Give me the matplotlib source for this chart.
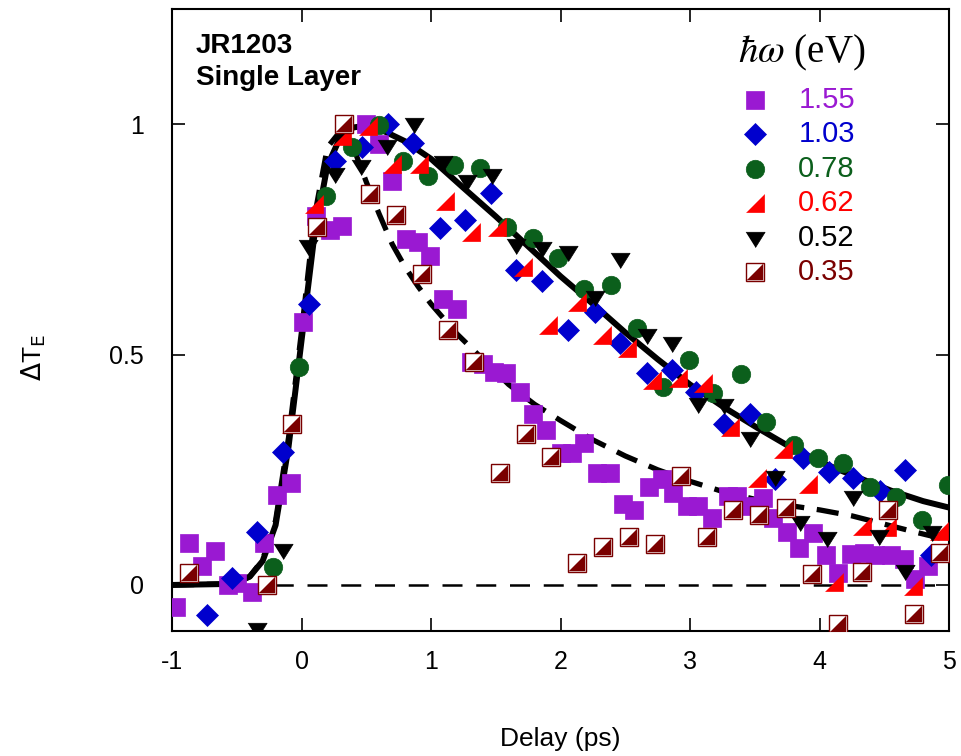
import matplotlib
matplotlib.use("Agg")
import matplotlib.pyplot as plt

plt.rcParams['font.family'] = ['Liberation Sans', 'DejaVu Sans']
plt.rcParams['axes.unicode_minus'] = False

# (delay in ps, normalised dT), one list per photon energy
e155 = [(-0.97, -0.047), (-0.87, 0.092), (-0.77, 0.042), (-0.67, 0.074), (-0.57, 0.0),
        (-0.50, 0.005), (-0.38, -0.015), (-0.29, 0.092), (-0.19, 0.195), (-0.08, 0.222),
        (0.015, 0.57), (0.11, 0.80), (0.22, 0.77), (0.31, 0.78), (0.50, 1.0),
        (0.60, 0.957), (0.70, 0.876), (0.81, 0.75), (0.90, 0.745), (0.99, 0.713),
        (1.09, 0.62), (1.20, 0.60), (1.31, 0.484), (1.40, 0.48), (1.49, 0.462),
        (1.58, 0.46), (1.69, 0.418), (1.79, 0.37), (1.89, 0.336), (2.00, 0.286),
        (2.09, 0.286), (2.18, 0.308), (2.28, 0.242), (2.38, 0.242), (2.48, 0.175),
        (2.57, 0.162), (2.68, 0.212), (2.78, 0.229), (2.87, 0.20), (2.98, 0.172),
        (3.06, 0.172), (3.17, 0.146), (3.29, 0.194), (3.36, 0.194), (3.45, 0.172),
        (3.56, 0.188), (3.64, 0.146), (3.75, 0.114), (3.84, 0.08), (3.95, 0.112),
        (4.05, 0.064), (4.14, 0.027), (4.24, 0.068), (4.34, 0.07), (4.43, 0.064),
        (4.55, 0.064), (4.65, 0.057), (4.74, 0.014), (4.84, 0.042), (4.93, 0.07)]

e103 = [(-0.73, -0.065), (-0.54, 0.016), (-0.34, 0.114), (-0.14, 0.288), (0.06, 0.61),
        (0.26, 0.92), (0.47, 0.95), (0.67, 1.0), (0.86, 0.96), (1.07, 0.775),
        (1.26, 0.793), (1.46, 0.85), (1.66, 0.683), (1.86, 0.66), (2.06, 0.553),
        (2.27, 0.593), (2.46, 0.525), (2.67, 0.46), (2.86, 0.467), (3.05, 0.418),
        (3.26, 0.35), (3.46, 0.37), (3.66, 0.23), (3.87, 0.275), (4.07, 0.245),
        (4.26, 0.232), (4.47, 0.205), (4.66, 0.25), (4.86, 0.064)]

e078 = [(-0.22, 0.04), (-0.02, 0.474), (0.19, 0.845), (0.39, 0.95), (0.60, 0.998),
        (0.78, 0.92), (0.98, 0.887), (1.18, 0.911), (1.38, 0.904), (1.59, 0.776),
        (1.79, 0.754), (1.98, 0.71), (2.18, 0.642), (2.39, 0.65), (2.59, 0.558),
        (2.79, 0.43), (2.99, 0.488), (3.18, 0.416), (3.39, 0.457), (3.59, 0.353),
        (3.80, 0.303), (3.99, 0.275), (4.18, 0.264), (4.39, 0.212), (4.59, 0.192),
        (4.79, 0.14), (4.99, 0.216)]

e062 = [(-0.08, 0.35), (0.10, 0.826), (0.31, 0.975), (0.51, 0.996), (0.70, 0.913),
        (0.91, 0.913), (1.11, 0.833), (1.31, 0.767), (1.51, 0.778), (1.71, 0.69),
        (1.90, 0.565), (2.13, 0.615), (2.32, 0.543), (2.51, 0.515), (2.71, 0.445),
        (2.91, 0.45), (3.10, 0.438), (3.31, 0.342), (3.52, 0.232), (3.72, 0.296),
        (3.91, 0.22), (4.11, 0.006), (4.33, 0.129), (4.52, 0.125), (4.72, -0.002),
        (4.92, 0.118)]

e052 = [(-0.34, -0.095), (-0.14, 0.075), (0.05, 0.735), (0.26, 0.892), (0.46, 0.91),
        (0.66, 0.953), (0.87, 1.0), (1.09, 0.917), (1.28, 0.876), (1.47, 0.89),
        (1.66, 0.738), (1.86, 0.732), (2.06, 0.723), (2.27, 0.626), (2.46, 0.708),
        (2.67, 0.543), (2.86, 0.525), (3.06, 0.392), (3.26, 0.39), (3.46, 0.318),
        (3.66, 0.234), (3.85, 0.136), (4.06, 0.103), (4.26, 0.192), (4.46, 0.107),
        (4.66, 0.031), (4.87, 0.114)]

e035 = [(-0.87, 0.027), (-0.27, 0.0), (-0.07, 0.35), (0.12, 0.776), (0.33, 1.0),
        (0.53, 0.849), (0.73, 0.802), (0.93, 0.674), (1.13, 0.554), (1.33, 0.485),
        (1.53, 0.244), (1.73, 0.327), (1.93, 0.277), (2.13, 0.048), (2.33, 0.083),
        (2.53, 0.105), (2.73, 0.088), (2.93, 0.236), (3.13, 0.104), (3.33, 0.162),
        (3.53, 0.151), (3.74, 0.168), (3.94, 0.024), (4.14, -0.085), (4.33, 0.029),
        (4.53, 0.162), (4.73, -0.063), (4.93, 0.07)]

# fit curves
fit_solid = [(-1.0, 0.0), (-0.6, 0.002), (-0.5, 0.006), (-0.4, 0.018), (-0.3, 0.052),
             (-0.2, 0.13), (-0.1, 0.30), (0.0, 0.53), (0.1, 0.76), (0.2, 0.91),
             (0.3, 0.972), (0.4, 0.993), (0.5, 0.997), (0.6, 0.99), (0.8, 0.963),
             (1.0, 0.925), (1.25, 0.862), (1.5, 0.80), (1.75, 0.735), (2.0, 0.67),
             (2.25, 0.61), (2.5, 0.548), (2.75, 0.49), (3.0, 0.435), (3.26, 0.386),
             (3.52, 0.341), (3.77, 0.30), (4.03, 0.264), (4.29, 0.234), (4.55, 0.205),
             (4.80, 0.182), (5.0, 0.168)]

fit_dashed = [(-1.0, 0.0), (-0.6, 0.002), (-0.5, 0.006), (-0.4, 0.018), (-0.3, 0.055),
              (-0.2, 0.14), (-0.1, 0.32), (0.0, 0.55), (0.1, 0.80), (0.2, 0.95),
              (0.3, 0.985), (0.4, 0.95), (0.5, 0.875), (0.6, 0.805), (0.7, 0.74),
              (0.8, 0.69), (0.9, 0.648), (1.0, 0.61), (1.2, 0.545), (1.4, 0.49),
              (1.6, 0.435), (1.8, 0.392), (2.0, 0.357), (2.25, 0.315), (2.5, 0.28),
              (2.75, 0.25), (3.0, 0.225), (3.25, 0.203), (3.5, 0.186), (3.75, 0.173),
              (4.0, 0.163), (4.25, 0.15), (4.5, 0.132), (4.75, 0.114), (5.0, 0.097)]

labels = ["1.55", "1.03", "0.78", "0.62", "0.52", "0.35"]
colors = ["#9A19D2", "#0000CD", "#0B5F1C", "#FF0000", "#000000", "#7A0000"]

tri_half = [(-1, -1), (1, -1), (1, 1)]
tri_down = [(-1, 0.65), (1, 0.65), (0, -0.95)]


def xy(pts):
    return [p[0] for p in pts], [p[1] for p in pts]


def draw_marker(ax, x, y, i, **kw):
    c = colors[i]
    if i == 0:
        ax.plot(x, y, ls="none", marker="s", ms=13.3, mfc=c, mec=c, mew=0.5, **kw)
    elif i == 1:
        ax.plot(x, y, ls="none", marker="D", ms=10.8, mfc=c, mec=c, mew=0.5, **kw)
    elif i == 2:
        ax.plot(x, y, ls="none", marker="o", ms=13.3, mfc=c, mec=c, mew=0.5, **kw)
    elif i == 3:
        ax.plot(x, y, ls="none", marker=tri_half, ms=13, mfc=c, mec=c, mew=0.5, **kw)
    elif i == 4:
        ax.plot(x, y, ls="none", marker=tri_down, ms=13.8, mfc=c, mec=c, mew=0.5, **kw)
    else:
        ax.plot(x, y, ls="none", marker="s", ms=12.6, mfc="white", mec=c, mew=1.0, **kw)
        ax.plot(x, y, ls="none", marker=tri_half, ms=11.6, mfc=c, mec=c, mew=0.3, **kw)


fig = plt.figure(figsize=(9.62, 7.56), dpi=100)
ax = fig.add_axes([0.1788, 0.1653, 0.8077, 0.8227])

ax.axhline(0, color="black", lw=1.8, dashes=(8, 5.5), zorder=1)
ax.plot(*xy(fit_solid), color="black", lw=4.3, solid_capstyle="round", zorder=2)
ax.plot(*xy(fit_dashed), color="black", lw=3.8, dashes=(4.2, 2.4), zorder=2)

series = [e155, e103, e078, e062, e052, e035]
for i, pts in enumerate(series):
    x, y = xy(pts)
    draw_marker(ax, x, y, i, zorder=3 + i)

ax.set_xlim(-1, 5)
ax.set_ylim(-0.1, 1.25)
ax.set_xticks([-1, 0, 1, 2, 3, 4, 5])
ax.set_yticks([0, 0.5, 1])
ax.set_yticklabels(["0", "0.5", "1"])
ax.tick_params(direction="in", length=9.5, width=1.2, top=True, right=True,
               labelsize=18)
ax.tick_params(axis="x", pad=14)
ax.tick_params(axis="y", pad=20)
for s in ax.spines.values():
    s.set_linewidth(1.5)

ax.set_xlabel("Delay (ps)", fontsize=19, labelpad=38)
ax.set_ylabel(r"$\Delta$T$_{\rm E}$", fontsize=19)
ax.yaxis.set_label_coords(-0.16, 0.44)

ax.text(0.031, 0.962, "JR1203\nSingle Layer", transform=ax.transAxes,
        fontsize=20, fontweight="bold", ha="left", va="top", linespacing=1.3)

# hand-made legend
ax.text(0.810, 0.929, r"$\hbar\omega$ (eV)", transform=ax.transAxes,
        fontsize=28, family="Liberation Serif", math_fontfamily="stix",
        ha="center", va="center")
for i, lab in enumerate(labels):
    yy = 0.854 - i * 0.0555
    draw_marker(ax, [0.750], [yy], i, transform=ax.transAxes, clip_on=False, zorder=20)
    ax.text(0.806, yy, lab, color=colors[i], fontsize=21, transform=ax.transAxes,
            ha="left", va="center")

fig.savefig("out.png", dpi=100)
